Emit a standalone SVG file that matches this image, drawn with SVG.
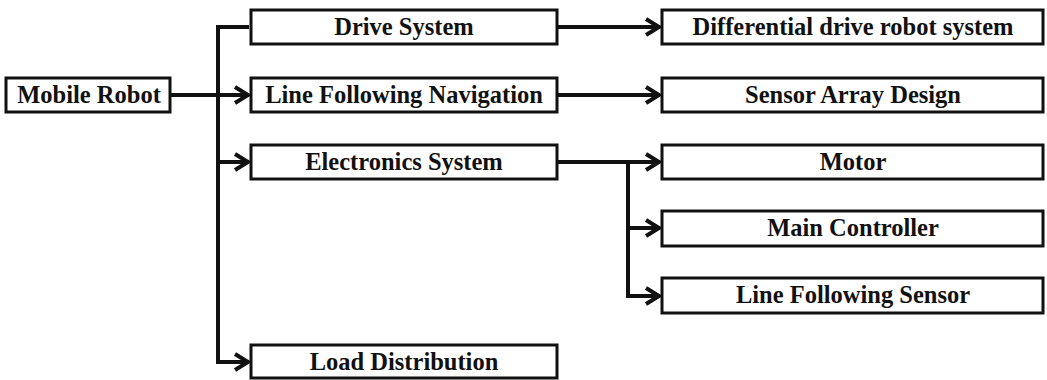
<svg xmlns="http://www.w3.org/2000/svg" width="1047" height="380" viewBox="0 0 1047 380">
<defs>
<style>
.box{fill:#fff;stroke:#111;stroke-width:3}
.lbl{font-family:"Liberation Serif","Times New Roman",serif;font-weight:bold;font-size:24.5px;fill:#111;text-anchor:middle}
.con{fill:none;stroke:#111;stroke-width:4;stroke-linejoin:miter}
</style>
<marker id="ah" markerUnits="userSpaceOnUse" markerWidth="18" markerHeight="20" refX="16" refY="10" orient="auto" viewBox="0 0 18 20">
<path d="M2,2 L15,10 L2,18" fill="none" stroke="#111" stroke-width="4" stroke-linejoin="miter" stroke-miterlimit="10"/>
</marker>
</defs>
<rect width="1047" height="380" fill="#fff"/>
<g id="connectors">
<path class="con" d="M170,95 H249" marker-end="url(#ah)"/>
<path class="con" d="M249,27 H218 V362 H249" marker-end="url(#ah)"/>
<path class="con" d="M218,162 H249" marker-end="url(#ah)"/>
<path class="con" d="M557,27 H660" marker-end="url(#ah)"/>
<path class="con" d="M557,95 H660" marker-end="url(#ah)"/>
<path class="con" d="M557,162 H660" marker-end="url(#ah)"/>
<path class="con" d="M628,162 V296 H660" marker-end="url(#ah)"/>
<path class="con" d="M628,228 H660" marker-end="url(#ah)"/>
</g>
<g id="mobile-robot"><rect class="box" x="6" y="78" width="164" height="34"/><text class="lbl" x="89" y="103">Mobile Robot</text></g>
<g id="drive-system"><rect class="box" x="251" y="10" width="306" height="34"/><text class="lbl" x="404" y="35">Drive System</text></g>
<g id="line-following-navigation"><rect class="box" x="251" y="78" width="306" height="34"/><text class="lbl" x="404" y="103">Line Following Navigation</text></g>
<g id="electronics-system"><rect class="box" x="251" y="145" width="306" height="34"/><text class="lbl" x="404" y="170">Electronics System</text></g>
<g id="load-distribution"><rect class="box" x="251" y="345" width="306" height="33"/><text class="lbl" x="404" y="370">Load Distribution</text></g>
<g id="differential-drive"><rect class="box" x="662" y="10" width="381" height="34"/><text class="lbl" x="853" y="35">Differential drive robot system</text></g>
<g id="sensor-array-design"><rect class="box" x="662" y="78" width="381" height="34"/><text class="lbl" x="853" y="103">Sensor Array Design</text></g>
<g id="motor"><rect class="box" x="662" y="145" width="381" height="34"/><text class="lbl" x="853" y="170">Motor</text></g>
<g id="main-controller"><rect class="box" x="662" y="211" width="381" height="35"/><text class="lbl" x="853" y="236">Main Controller</text></g>
<g id="line-following-sensor"><rect class="box" x="662" y="278" width="381" height="35"/><text class="lbl" x="853" y="303">Line Following Sensor</text></g>
</svg>
